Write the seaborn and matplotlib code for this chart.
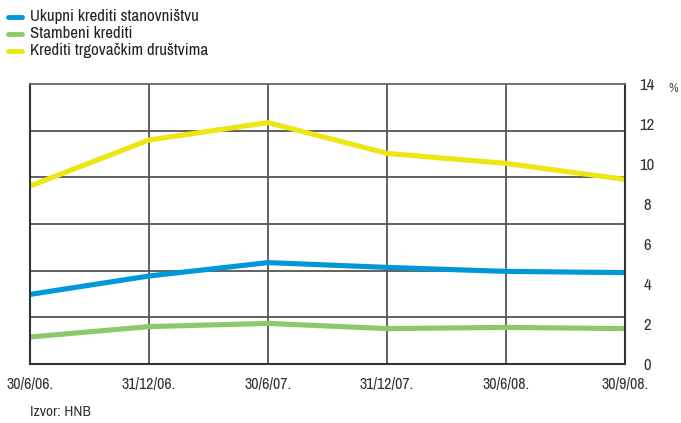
import numpy as np
import pandas as pd
import matplotlib
matplotlib.use("Agg")
import matplotlib.pyplot as plt
import seaborn as sns

# podaci (%)
dates = ["30/6/06.", "31/12/06.", "30/6/07.", "31/12/07.", "30/6/08.", "30/9/08."]
ukupni = [3.48, 4.40, 5.07, 4.83, 4.63, 4.57]
stambeni = [1.35, 1.87, 2.03, 1.77, 1.83, 1.77]
trgovacka = [8.90, 11.20, 12.07, 10.53, 10.03, 9.23]
series_names = ["Ukupni krediti stanovništvu", "Stambeni krediti", "Krediti trgovačkim društvima"]
colors = ["#0098d8", "#8cc96c", "#ece613"]
y_ticks = [0, 2, 4, 6, 8, 10, 12, 14]

df = pd.DataFrame({
    "x": list(range(len(dates))) * 3,
    "value": ukupni + stambeni + trgovacka,
    "serija": [n for n in series_names for _ in dates],
})

sns.set_style("white")
plt.rcParams["font.family"] = ["Archivo Narrow", "DejaVu Sans"]

fig = plt.figure(figsize=(6.81, 4.23), dpi=100)
ax = fig.add_axes([30 / 681, 59 / 423, 595 / 681, 280 / 423])

sns.lineplot(data=df, x="x", y="value", hue="serija", hue_order=series_names,
             palette=colors, linewidth=3.7, ax=ax, legend=False)

ax.set_xlim(0, len(dates) - 1)
ax.set_ylim(0, 14)
ax.set_xticks(range(len(dates)))
ax.set_xticklabels(dates, fontsize=11.5, color="#333333")
ax.yaxis.tick_right()
ax.set_yticks(y_ticks)
ax.set_yticklabels([str(v) for v in y_ticks], fontsize=12, color="#333333",
                   ha="center")
ax.set_yticks(np.linspace(0, 14, 7), minor=True)
ax.tick_params(axis="both", which="both", length=0)
ax.tick_params(axis="x", pad=9)
ax.tick_params(axis="y", pad=16)
ax.grid(False)
ax.grid(True, axis="y", which="minor", color="#555555", linewidth=1.3)
ax.grid(True, axis="x", which="major", color="#555555", linewidth=1.3)
ax.set_xlabel("")
ax.set_ylabel("")
ax.set_axisbelow(True)
for side in ["left", "right", "bottom", "top"]:
    ax.spines[side].set_visible(True)
    ax.spines[side].set_color("#333333")
    ax.spines[side].set_linewidth(1.5)
ax.spines["top"].set_color("#666666")
ax.spines["top"].set_linewidth(1.3)

ax.text(1.081, 0.985, "%", transform=ax.transAxes, fontsize=9.5, color="#444444",
        ha="center", va="center")

# legenda
for i, (name, c) in enumerate(zip(series_names, colors)):
    y = 1 - (17 + 17 * i) / 423
    fig.add_artist(plt.Line2D([8 / 681, 22 / 681], [y, y], color=c, linewidth=3.5,
                              transform=fig.transFigure))
    fig.text(30 / 681, y, name, fontsize=12.2, color="#222222", va="center", ha="left")

fig.text(30 / 681, 1 - 412 / 423, "Izvor: HNB", fontsize=11, color="#333333",
         va="center", ha="left")

fig.savefig("out.png", dpi=100)
